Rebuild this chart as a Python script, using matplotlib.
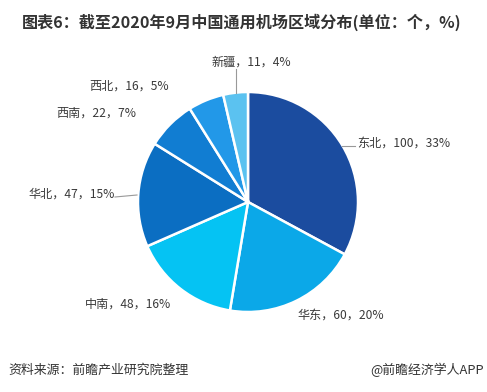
import matplotlib
matplotlib.use("Agg")
import matplotlib.pyplot as plt

plt.rcParams['font.family'] = ['Noto Sans CJK SC', 'DejaVu Sans']

regions = ["东北", "华东", "中南", "华北", "西南", "西北", "新疆"]
counts = [100, 60, 48, 47, 22, 16, 11]
shares = [33, 20, 16, 15, 7, 5, 4]
colors = ["#1b4c9f", "#0ba8e8", "#05c3f3", "#0b6ec2", "#117dd2", "#2298e8", "#5bc2f0"]

W, H = 487, 392
fig = plt.figure(figsize=(W / 100, H / 100), dpi=100)

cx, cy, r = 248, 202, 110
ax = fig.add_axes([(cx - r) / W, (H - cy - r) / H, 2 * r / W, 2 * r / H])
ax.pie(counts, colors=colors, startangle=90, counterclock=False, radius=1,
       wedgeprops=dict(edgecolor="white", linewidth=1.8))
ax.set_xlim(-1, 1)
ax.set_ylim(-1, 1)
ax.set_aspect("equal")
ax.axis("off")

# label positions in pixels (x, y, ha)
label_pos = [(357, 143, "left"), (341, 315, "center"), (128, 304, "center"),
             (115, 194, "right"), (96, 113, "center"), (129, 86, "center"),
             (251, 62, "center")]
for name, n, p, (px, py, ha) in zip(regions, counts, shares, label_pos):
    fig.text(px / W, 1 - py / H, f"{name}，{n}，{p}%", ha=ha, va="center",
             fontsize=8.7, color="#3a3a3a")

# leader lines
def to_fig(px, py):
    return px / W, 1 - py / H

leaders = [((342, 146), (355, 146)), ((115, 197), (137, 195)), ((236, 69), (236, 93))]
for (x0, y0), (x1, y1) in leaders:
    a, b = to_fig(x0, y0)
    c, d = to_fig(x1, y1)
    fig.add_artist(plt.Line2D([a, c], [b, d], color="#999999", linewidth=0.8))

fig.text(22 / W, 1 - 22 / H, "图表6：截至2020年9月中国通用机场区域分布(单位：个，%)",
         ha="left", va="center", fontsize=11.6, fontweight="bold", color="#333333")
fig.text(8 / W, 1 - 370 / H, "资料来源：前瞻产业研究院整理", ha="left", va="center",
         fontsize=9.3, color="#333333")
fig.text(484 / W, 1 - 370 / H, "@前瞻经济学人APP", ha="right", va="center",
         fontsize=9.3, color="#333333")

fig.savefig("out.png", dpi=100)
